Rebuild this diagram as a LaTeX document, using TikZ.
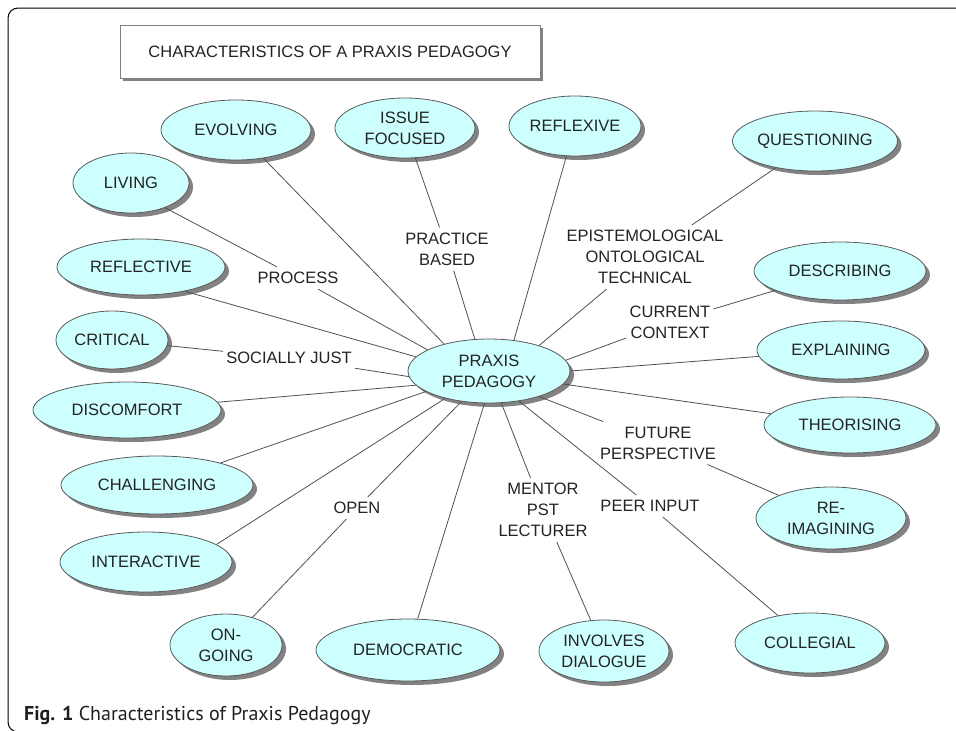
\documentclass[tikz,border=0pt]{standalone}
\usepackage{fontspec}
\setmainfont{Liberation Sans}
\newfontfamily\capfont{PT Sans}
\usetikzlibrary{shapes.geometric,shadows}
\definecolor{bubfill}{RGB}{206,255,255}
\definecolor{txtc}{RGB}{35,35,35}
\definecolor{edgec}{RGB}{90,90,90}
\definecolor{linkc}{RGB}{80,80,80}
\definecolor{shadec}{RGB}{130,130,130}
\newcommand\bubble[5]{%
  \node[bub,minimum width=#3pt,minimum height=#4pt] (#1) at #2 {};
  \node[btxt] (#1-t) at (#1.center) {#5};}
\begin{document}
\begin{tikzpicture}[x=1pt,y=-1pt,
  bub/.style={ellipse,draw=edgec,line width=0.8pt,fill=bubfill,inner sep=0pt,
     drop shadow={shadow xshift=4pt,shadow yshift=-4pt,fill=shadec,opacity=1}},
  btxt/.style={text=txtc,align=center,font=\fontsize{16.5}{21}\selectfont,inner sep=0pt},
  lab/.style={text=txtc,align=center,font=\fontsize{16.5}{21}\selectfont,inner xsep=3pt,inner ysep=5pt},
  link/.style={draw=linkc,line width=0.8pt}]
\useasboundingbox (0,0) rectangle (956,731);
% outer frame
\draw[line width=1pt,rounded corners=10pt] (975,8) -- (8,8) -- (8,732) -- (40,732);
% title
\node[draw=gray,line width=0.8pt,fill=white,minimum width=420pt,minimum height=53pt,inner sep=0pt,
  text=txtc,font=\fontsize{16.5}{20}\selectfont,
  drop shadow={shadow xshift=3pt,shadow yshift=-3pt,fill=shadec,opacity=1}]
  (titlebox) at (330,51.5) {CHARACTERISTICS OF A PRAXIS PEDAGOGY};
% bubbles
\bubble{praxis}{(489,371)}{162}{64}{PRAXIS\\PEDAGOGY}
\bubble{evolving}{(236,130)}{150}{60}{EVOLVING}
\bubble{issue}{(405,128)}{140}{60}{ISSUE\\FOCUSED}
\bubble{reflexive}{(575,126)}{132}{60}{REFLEXIVE}
\bubble{questioning}{(815,141)}{165}{60}{QUESTIONING}
\bubble{living}{(131,183)}{116}{60}{LIVING}
\bubble{reflective}{(141,267)}{168}{56}{REFLECTIVE}
\bubble{describing}{(840,271)}{172}{58}{DESCRIBING}
\bubble{critical}{(112,340)}{112}{58}{CRITICAL}
\bubble{explaining}{(841,350)}{168}{58}{EXPLAINING}
\bubble{discomfort}{(127,410)}{188}{56}{DISCOMFORT}
\bubble{theorising}{(850,425)}{172}{56}{THEORISING}
\bubble{challenging}{(157,485)}{192}{58}{CHALLENGING}
\bubble{reimagining}{(831,518)}{150}{62}{RE-\\IMAGINING}
\bubble{interactive}{(146,562)}{172}{60}{INTERACTIVE}
\bubble{ongoing}{(226,645)}{112}{62}{ON-\\GOING}
\bubble{democratic}{(408,650)}{184}{62}{DEMOCRATIC}
\bubble{involves}{(604,651)}{130}{62}{INVOLVES\\DIALOGUE}
\bubble{collegial}{(810,643)}{150}{60}{COLLEGIAL}
% labels
\node[lab] (process) at (298,278) {PROCESS};
\node[lab] (practice) at (447,249) {PRACTICE\\BASED};
\node[lab] (epist) at (645,257) {EPISTEMOLOGICAL\\ONTOLOGICAL\\TECHNICAL};
\node[lab] (current) at (670,322) {CURRENT\\CONTEXT};
\node[lab] (just) at (289,358) {SOCIALLY JUST};
\node[lab] (future) at (658,443) {FUTURE\\PERSPECTIVE};
\node[lab] (open) at (357,508) {OPEN};
\node[lab] (mentor) at (543,510) {MENTOR\\PST\\LECTURER};
\node[lab] (peer) at (650,506) {PEER INPUT};
% connectors
\draw[link] (living.-36) -- (process) -- (praxis.161);
\draw[link] (evolving) -- (praxis.149);
\draw[link] (issue) -- (practice) -- (praxis.114);
\draw[link] (reflexive) -- (praxis.51);
\draw[link] (questioning) -- (epist) -- (praxis.27);
\draw[link] (describing) -- (current) -- (praxis.8);
\draw[link] (explaining) -- (praxis.0);
\draw[link] (theorising) -- (praxis.-10);
\draw[link] (reimagining) -- (future) -- (praxis.-27);
\draw[link] (collegial) -- (peer) -- (praxis.-45);
\draw[link] (involves) -- (mentor) -- (praxis.-69);
\draw[link] (democratic) -- (praxis.-98);
\draw[link] (ongoing) -- (open) -- (praxis.-132);
\draw[link] (interactive.14) -- (praxis.-148);
\draw[link] (challenging) -- (praxis.-162);
\draw[link] (discomfort) -- (praxis.-169);
\draw[link] (critical) -- (just) -- (praxis.-176);
\draw[link] (reflective.-29) -- (praxis.169);
% caption
\node[anchor=base west,inner sep=0pt,font=\capfont\fontsize{20}{22}\selectfont,text=black!88]
  (caption) at (24,720) {\textbf{Fig. 1} Characteristics of Praxis Pedagogy};
\end{tikzpicture}
\end{document}
